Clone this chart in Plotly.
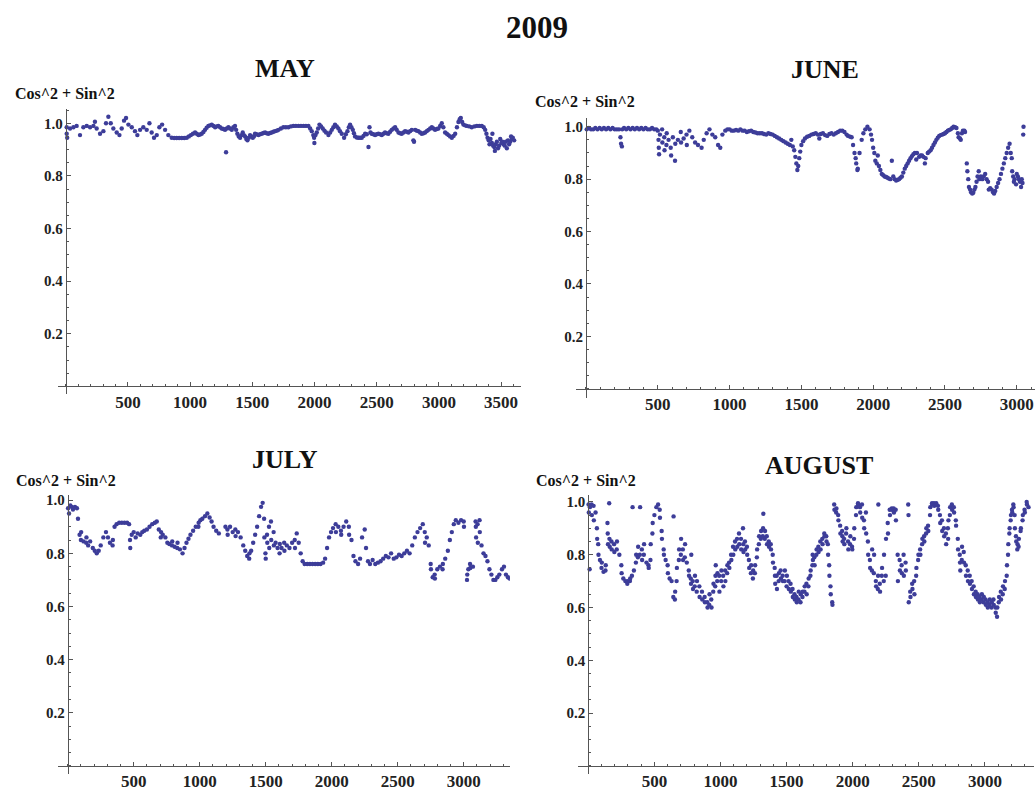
import plotly.graph_objects as go

W, H = 1035, 791

main_title = "2009"
y_label = "Cos^2 + Sin^2"
month_titles = ["MAY", "JUNE", "JULY", "AUGUST"]

x_ticks_may = [500, 1000, 1500, 2000, 2500, 3000, 3500]
x_ticks_other = [500, 1000, 1500, 2000, 2500, 3000]
y_ticks = [0.2, 0.4, 0.6, 0.8, 1.0]
y_ticktext = ["0.2", "0.4", "0.6", "0.8", "1.0"]

may_pts = [
    (8, 0.985), (8, 0.96), (12, 0.945), (35, 0.98), (62, 0.985), (88, 0.99), (115, 0.955), (142, 0.985),
    (169, 0.99), (196, 0.985), (223, 0.99), (235, 1.006), (249, 0.98), (276, 0.96), (303, 0.97), (324, 1.0),
    (343, 1.025), (362, 1.0), (383, 0.98), (410, 0.965), (432, 0.955), (450, 0.98), (469, 1.01), (485, 1.02),
    (504, 0.995), (531, 0.985), (557, 0.97), (576, 0.955), (598, 0.975), (624, 0.985), (651, 0.975), (673, 1.0),
    (691, 0.965), (710, 0.945), (732, 0.955), (753, 0.985), (775, 0.995), (799, 0.975), (825, 0.955), (852, 0.945),
    (872, 0.944), (892, 0.944), (912, 0.944), (933, 0.944), (953, 0.944), (973, 0.945), (990, 0.95), (1006, 0.955),
    (1023, 0.96), (1040, 0.965), (1054, 0.96), (1067, 0.955), (1080, 0.957), (1093, 0.96), (1107, 0.967), (1120, 0.975),
    (1133, 0.983), (1147, 0.99), (1160, 0.992), (1174, 0.995), (1188, 0.99), (1201, 0.985), (1214, 0.988), (1227, 0.99),
    (1241, 0.985), (1254, 0.98), (1268, 0.978), (1281, 0.975), (1289, 0.89), (1295, 0.98), (1308, 0.985), (1321, 0.98),
    (1335, 0.975), (1348, 0.985), (1361, 0.99), (1370, 0.975), (1380, 0.96), (1391, 0.95), (1402, 0.945), (1412, 0.955),
    (1423, 0.965), (1432, 0.955), (1442, 0.95), (1452, 0.94), (1461, 0.935), (1472, 0.945), (1482, 0.955), (1493, 0.95),
    (1504, 0.945), (1513, 0.95), (1522, 0.96), (1535, 0.958), (1549, 0.955), (1562, 0.958), (1576, 0.96), (1590, 0.963),
    (1603, 0.965), (1616, 0.962), (1629, 0.96), (1643, 0.963), (1656, 0.965), (1670, 0.968), (1683, 0.97), (1697, 0.972),
    (1710, 0.975), (1730, 0.98), (1750, 0.985), (1770, 0.985), (1790, 0.985), (1810, 0.988), (1830, 0.99), (1850, 0.99),
    (1871, 0.99), (1891, 0.99), (1911, 0.99), (1931, 0.99), (1951, 0.99), (1965, 0.98), (1978, 0.97), (1990, 0.955),
    (1997, 0.945), (1999, 0.925), (2008, 0.955), (2018, 0.965), (2029, 0.98), (2040, 0.995), (2053, 0.988), (2066, 0.98),
    (2080, 0.972), (2093, 0.965), (2112, 0.955), (2126, 0.965), (2139, 0.975), (2152, 0.985), (2165, 0.995), (2179, 0.988),
    (2192, 0.98), (2205, 0.97), (2219, 0.96), (2238, 0.945), (2252, 0.958), (2265, 0.97), (2276, 0.985), (2286, 0.995),
    (2297, 0.985), (2308, 0.975), (2317, 0.962), (2326, 0.95), (2340, 0.946), (2353, 0.945), (2367, 0.945), (2380, 0.945),
    (2394, 0.952), (2407, 0.96), (2420, 0.958), (2434, 0.91), (2442, 0.985), (2450, 0.965), (2460, 0.96), (2474, 0.958),
    (2487, 0.955), (2500, 0.958), (2514, 0.96), (2527, 0.958), (2541, 0.955), (2554, 0.96), (2567, 0.965), (2581, 0.962),
    (2594, 0.96), (2608, 0.968), (2621, 0.975), (2635, 0.98), (2648, 0.985), (2661, 0.975), (2675, 0.965), (2688, 0.962),
    (2701, 0.96), (2715, 0.965), (2728, 0.97), (2742, 0.968), (2755, 0.965), (2768, 0.97), (2782, 0.975), (2795, 0.935),
    (2800, 0.93), (2809, 0.975), (2822, 0.972), (2835, 0.97), (2849, 0.965), (2862, 0.96), (2876, 0.962), (2889, 0.965),
    (2902, 0.97), (2916, 0.975), (2930, 0.98), (2943, 0.985), (2956, 0.98), (2969, 0.975), (2983, 0.978), (2996, 0.98),
    (3010, 0.99), (3023, 1.0), (3036, 0.985), (3050, 0.965), (3064, 0.96), (3077, 0.955), (3090, 0.95), (3104, 0.945),
    (3118, 0.952), (3131, 0.96), (3145, 0.985), (3157, 1.005), (3167, 1.015), (3176, 1.02), (3187, 1.005), (3197, 0.995),
    (3210, 0.992), (3224, 0.99), (3244, 0.988), (3264, 0.985), (3285, 0.988), (3305, 0.99), (3325, 0.99), (3345, 0.99),
    (3360, 0.985), (3372, 0.975), (3382, 0.96), (3391, 0.945), (3400, 0.935), (3407, 0.92), (3415, 0.94), (3426, 0.925),
    (3430, 0.96), (3436, 0.915), (3445, 0.91), (3450, 0.895), (3456, 0.92), (3466, 0.93), (3475, 0.905), (3484, 0.915),
    (3493, 0.94), (3502, 0.925), (3511, 0.93), (3520, 0.92), (3529, 0.915), (3538, 0.93), (3546, 0.905), (3555, 0.935),
    (3564, 0.92), (3573, 0.93), (3580, 0.95), (3587, 0.94), (3594, 0.945), (3605, 0.935),
]

june_pts = [
    (5, 0.99), (20, 0.995), (35, 0.99), (50, 0.99), (65, 0.995), (80, 0.99), (95, 0.995), (110, 0.99),
    (125, 0.995), (140, 0.99), (155, 0.995), (170, 0.99), (185, 0.995), (200, 0.99), (215, 0.99), (230, 0.99),
    (240, 0.96), (244, 0.935), (250, 0.925), (252, 0.99), (265, 0.995), (280, 0.99), (295, 0.995), (310, 0.99),
    (325, 0.995), (340, 0.99), (355, 0.995), (370, 0.99), (385, 0.995), (400, 0.99), (415, 0.995), (430, 0.99),
    (445, 0.99), (460, 0.995), (475, 0.99), (490, 0.99), (500, 0.985), (505, 0.95), (507, 0.92), (509, 0.895),
    (515, 0.97), (530, 0.99), (532, 0.94), (545, 0.96), (547, 0.91), (560, 0.93), (562, 0.975), (575, 0.95),
    (590, 0.92), (593, 0.89), (605, 0.96), (620, 0.87), (622, 0.935), (640, 0.95), (660, 0.98), (662, 0.94),
    (680, 0.955), (700, 0.97), (702, 0.93), (720, 0.985), (740, 0.96), (760, 0.94), (780, 0.93), (805, 0.92),
    (820, 0.95), (840, 0.975), (860, 0.99), (880, 0.97), (900, 0.96), (920, 0.93), (935, 0.92), (950, 0.97),
    (970, 0.985), (985, 0.99), (1000, 0.99), (1015, 0.985), (1030, 0.985), (1045, 0.988), (1060, 0.985), (1075, 0.99),
    (1090, 0.985), (1105, 0.985), (1120, 0.98), (1135, 0.983), (1150, 0.985), (1165, 0.98), (1180, 0.978), (1195, 0.975),
    (1210, 0.975), (1225, 0.975), (1240, 0.972), (1255, 0.97), (1270, 0.975), (1285, 0.972), (1300, 0.97), (1315, 0.965),
    (1330, 0.96), (1345, 0.955), (1360, 0.95), (1375, 0.945), (1390, 0.94), (1405, 0.935), (1420, 0.93), (1430, 0.95),
    (1440, 0.925), (1450, 0.91), (1458, 0.885), (1465, 0.86), (1472, 0.835), (1478, 0.85), (1485, 0.88), (1492, 0.905),
    (1500, 0.93), (1512, 0.945), (1525, 0.955), (1540, 0.962), (1555, 0.965), (1570, 0.97), (1585, 0.972), (1600, 0.975),
    (1615, 0.97), (1625, 0.955), (1635, 0.972), (1650, 0.975), (1665, 0.968), (1680, 0.965), (1695, 0.972), (1710, 0.975),
    (1725, 0.97), (1740, 0.975), (1755, 0.98), (1770, 0.985), (1785, 0.985), (1800, 0.98), (1815, 0.97), (1825, 0.965),
    (1840, 0.962), (1850, 0.96), (1860, 0.93), (1870, 0.9), (1878, 0.88), (1882, 0.86), (1890, 0.835), (1893, 0.84),
    (1905, 0.9), (1920, 0.95), (1932, 0.975), (1945, 0.99), (1960, 1.0), (1975, 0.99), (1985, 0.97), (1992, 0.95),
    (2000, 0.92), (2008, 0.9), (2015, 0.87), (2025, 0.86), (2032, 0.89), (2040, 0.85), (2050, 0.835), (2060, 0.82),
    (2070, 0.815), (2080, 0.81), (2090, 0.808), (2100, 0.805), (2110, 0.802), (2120, 0.8), (2130, 0.87), (2140, 0.81),
    (2150, 0.8), (2160, 0.795), (2170, 0.797), (2180, 0.8), (2190, 0.805), (2200, 0.81), (2210, 0.825), (2220, 0.84),
    (2230, 0.85), (2240, 0.86), (2250, 0.87), (2260, 0.88), (2270, 0.888), (2280, 0.895), (2290, 0.9), (2300, 0.875),
    (2305, 0.9), (2320, 0.885), (2330, 0.89), (2340, 0.89), (2350, 0.885), (2360, 0.86), (2365, 0.88), (2380, 0.9),
    (2390, 0.905), (2400, 0.91), (2410, 0.92), (2420, 0.93), (2430, 0.94), (2440, 0.95), (2450, 0.958), (2460, 0.965),
    (2470, 0.968), (2480, 0.97), (2490, 0.972), (2500, 0.975), (2510, 0.98), (2520, 0.985), (2530, 0.988), (2540, 0.99),
    (2550, 0.995), (2560, 1.0), (2570, 0.998), (2580, 0.995), (2590, 0.975), (2595, 0.96), (2605, 0.955), (2610, 0.95),
    (2618, 0.975), (2625, 0.985), (2635, 0.985), (2640, 0.98), (2652, 0.86), (2656, 0.83), (2662, 0.8), (2667, 0.77),
    (2675, 0.76), (2682, 0.75), (2690, 0.745), (2697, 0.748), (2705, 0.76), (2712, 0.77), (2720, 0.79), (2727, 0.81),
    (2735, 0.83), (2740, 0.8), (2750, 0.81), (2760, 0.8), (2770, 0.81), (2780, 0.82), (2790, 0.8), (2800, 0.79),
    (2805, 0.76), (2815, 0.765), (2825, 0.76), (2835, 0.75), (2842, 0.745), (2850, 0.755), (2860, 0.77), (2870, 0.785),
    (2880, 0.8), (2890, 0.82), (2900, 0.84), (2910, 0.86), (2920, 0.88), (2930, 0.9), (2940, 0.92), (2950, 0.935),
    (2958, 0.9), (2965, 0.88), (2968, 0.83), (2975, 0.81), (2980, 0.79), (2985, 0.8), (2995, 0.78), (3000, 0.82),
    (3008, 0.81), (3015, 0.8), (3022, 0.79), (3030, 0.77), (3035, 0.8), (3040, 0.785), (3045, 0.97), (3047, 1.0),
]

july_pts = [
    (3, 0.97), (10, 0.95), (20, 0.98), (30, 0.975), (40, 0.965), (55, 0.975), (70, 0.97), (78, 0.93),
    (90, 0.87), (100, 0.85), (102, 0.88), (120, 0.845), (140, 0.84), (142, 0.86), (155, 0.83), (170, 0.845),
    (190, 0.82), (205, 0.81), (220, 0.8), (235, 0.81), (250, 0.83), (270, 0.86), (290, 0.88), (305, 0.86),
    (320, 0.84), (340, 0.83), (342, 0.85), (355, 0.9), (370, 0.91), (390, 0.915), (410, 0.915), (430, 0.915),
    (450, 0.915), (465, 0.91), (472, 0.85), (474, 0.82), (485, 0.87), (500, 0.88), (515, 0.86), (530, 0.875),
    (550, 0.87), (565, 0.88), (580, 0.885), (600, 0.89), (620, 0.9), (640, 0.91), (660, 0.915), (675, 0.92),
    (690, 0.89), (705, 0.86), (707, 0.88), (720, 0.87), (740, 0.86), (755, 0.84), (770, 0.835), (790, 0.83),
    (792, 0.845), (810, 0.825), (830, 0.82), (832, 0.84), (850, 0.815), (870, 0.8), (885, 0.82), (900, 0.84),
    (915, 0.855), (930, 0.87), (950, 0.885), (970, 0.9), (990, 0.9), (992, 0.915), (1005, 0.925), (1020, 0.93),
    (1040, 0.94), (1058, 0.95), (1075, 0.935), (1090, 0.92), (1105, 0.9), (1125, 0.885), (1145, 0.875), (1195, 0.9),
    (1210, 0.89), (1212, 0.87), (1230, 0.9), (1250, 0.88), (1270, 0.89), (1272, 0.865), (1290, 0.88), (1310, 0.86),
    (1330, 0.83), (1345, 0.81), (1360, 0.79), (1375, 0.78), (1377, 0.8), (1390, 0.81), (1405, 0.84), (1420, 0.87),
    (1435, 0.9), (1450, 0.94), (1465, 0.975), (1477, 0.99), (1488, 0.93), (1490, 0.86), (1498, 0.8), (1500, 0.78),
    (1510, 0.87), (1512, 0.84), (1525, 0.9), (1527, 0.82), (1540, 0.92), (1542, 0.85), (1560, 0.88), (1562, 0.83),
    (1575, 0.84), (1590, 0.82), (1605, 0.8), (1607, 0.835), (1620, 0.82), (1640, 0.84), (1642, 0.81), (1660, 0.83),
    (1680, 0.82), (1700, 0.84), (1720, 0.85), (1722, 0.82), (1735, 0.875), (1750, 0.84), (1765, 0.8), (1780, 0.77),
    (1795, 0.76), (1815, 0.76), (1835, 0.76), (1855, 0.76), (1875, 0.76), (1895, 0.76), (1915, 0.76), (1935, 0.765),
    (1950, 0.78), (1965, 0.82), (1980, 0.86), (1995, 0.88), (2010, 0.895), (2030, 0.91), (2032, 0.88), (2050, 0.9),
    (2070, 0.885), (2072, 0.87), (2090, 0.9), (2110, 0.92), (2130, 0.9), (2132, 0.87), (2150, 0.85), (2165, 0.79),
    (2180, 0.77), (2200, 0.76), (2215, 0.78), (2230, 0.86), (2250, 0.89), (2260, 0.82), (2275, 0.77), (2290, 0.76),
    (2310, 0.775), (2330, 0.76), (2350, 0.765), (2370, 0.77), (2390, 0.78), (2410, 0.79), (2430, 0.785), (2450, 0.8),
    (2470, 0.78), (2490, 0.785), (2510, 0.795), (2530, 0.79), (2550, 0.8), (2570, 0.81), (2590, 0.8), (2610, 0.83),
    (2630, 0.86), (2650, 0.88), (2670, 0.895), (2690, 0.91), (2705, 0.88), (2707, 0.84), (2720, 0.86), (2735, 0.83),
    (2750, 0.76), (2752, 0.74), (2765, 0.71), (2780, 0.72), (2782, 0.705), (2800, 0.74), (2820, 0.75), (2840, 0.74),
    (2842, 0.76), (2860, 0.78), (2880, 0.81), (2895, 0.85), (2910, 0.88), (2925, 0.91), (2940, 0.925), (2960, 0.915),
    (2980, 0.925), (3000, 0.92), (3002, 0.9), (3025, 0.7), (3027, 0.72), (3035, 0.74), (3048, 0.76), (3050, 0.745),
    (3070, 0.75), (3090, 0.92), (3092, 0.9), (3094, 0.86), (3105, 0.91), (3107, 0.84), (3120, 0.925), (3122, 0.88),
    (3135, 0.83), (3150, 0.8), (3165, 0.79), (3180, 0.77), (3195, 0.74), (3210, 0.72), (3225, 0.7), (3240, 0.7),
    (3255, 0.71), (3270, 0.72), (3290, 0.74), (3305, 0.75), (3320, 0.72), (3335, 0.71), (3348, 0.705),
]

august_pts = [
    (2, 0.99), (4, 0.96), (10, 0.745), (12, 0.98), (25, 0.99), (27, 0.95), (40, 0.985), (42, 0.93),
    (55, 0.96), (65, 0.9), (67, 0.86), (75, 0.84), (77, 0.8), (88, 0.78), (100, 0.75), (102, 0.77),
    (115, 0.735), (130, 0.74), (132, 0.76), (145, 0.92), (147, 0.88), (149, 0.84), (158, 0.995), (160, 0.86),
    (162, 0.83), (175, 0.85), (177, 0.82), (195, 0.84), (197, 0.81), (215, 0.82), (217, 0.85), (235, 0.8),
    (250, 0.76), (252, 0.73), (265, 0.71), (280, 0.7), (295, 0.69), (297, 0.7), (315, 0.7), (317, 0.71),
    (330, 0.72), (335, 0.98), (345, 0.74), (360, 0.77), (362, 0.8), (375, 0.79), (377, 0.83), (390, 0.8),
    (392, 0.98), (405, 0.82), (407, 0.78), (420, 0.8), (422, 0.84), (440, 0.77), (455, 0.76), (457, 0.75),
    (470, 0.78), (472, 0.84), (485, 0.88), (487, 0.92), (500, 0.95), (515, 0.98), (528, 0.99), (540, 0.97),
    (542, 0.94), (555, 0.89), (557, 0.86), (570, 0.82), (572, 0.8), (585, 0.78), (600, 0.76), (602, 0.73),
    (615, 0.71), (630, 0.7), (643, 0.64), (645, 0.945), (655, 0.63), (657, 0.66), (668, 0.7), (670, 0.75),
    (685, 0.78), (687, 0.82), (700, 0.8), (702, 0.86), (715, 0.82), (717, 0.78), (730, 0.79), (732, 0.84),
    (745, 0.77), (760, 0.74), (762, 0.72), (775, 0.71), (777, 0.69), (779, 0.8), (790, 0.7), (792, 0.67),
    (805, 0.68), (807, 0.72), (820, 0.66), (822, 0.7), (840, 0.68), (842, 0.64), (860, 0.66), (862, 0.63),
    (880, 0.64), (882, 0.62), (900, 0.62), (902, 0.6), (915, 0.61), (917, 0.65), (930, 0.63), (932, 0.6),
    (945, 0.66), (947, 0.69), (960, 0.68), (962, 0.72), (964, 0.76), (975, 0.7), (977, 0.73), (990, 0.72),
    (992, 0.66), (1005, 0.7), (1007, 0.74), (1020, 0.72), (1022, 0.68), (1035, 0.74), (1037, 0.7), (1050, 0.73),
    (1052, 0.76), (1065, 0.77), (1067, 0.75), (1080, 0.8), (1082, 0.78), (1095, 0.83), (1097, 0.8), (1110, 0.85),
    (1112, 0.82), (1125, 0.86), (1127, 0.83), (1140, 0.88), (1142, 0.84), (1155, 0.86), (1157, 0.82), (1170, 0.9),
    (1172, 0.84), (1174, 0.81), (1185, 0.85), (1187, 0.82), (1200, 0.83), (1202, 0.8), (1215, 0.78), (1217, 0.75),
    (1230, 0.73), (1232, 0.76), (1245, 0.71), (1247, 0.74), (1260, 0.73), (1262, 0.76), (1275, 0.79), (1277, 0.82),
    (1290, 0.84), (1292, 0.87), (1305, 0.86), (1307, 0.89), (1320, 0.87), (1322, 0.9), (1324, 0.955), (1335, 0.86),
    (1337, 0.89), (1350, 0.87), (1352, 0.84), (1365, 0.85), (1367, 0.83), (1380, 0.84), (1382, 0.82), (1395, 0.8),
    (1397, 0.77), (1410, 0.75), (1412, 0.72), (1414, 0.69), (1425, 0.72), (1427, 0.67), (1440, 0.7), (1442, 0.73),
    (1455, 0.74), (1457, 0.71), (1470, 0.72), (1472, 0.7), (1485, 0.7), (1487, 0.74), (1500, 0.68), (1502, 0.72),
    (1515, 0.7), (1517, 0.67), (1530, 0.69), (1532, 0.66), (1545, 0.67), (1547, 0.64), (1560, 0.65), (1562, 0.63),
    (1575, 0.64), (1577, 0.62), (1590, 0.63), (1592, 0.66), (1605, 0.62), (1607, 0.65), (1620, 0.64), (1622, 0.66),
    (1635, 0.66), (1637, 0.68), (1650, 0.69), (1652, 0.65), (1665, 0.68), (1667, 0.71), (1680, 0.72), (1682, 0.74),
    (1695, 0.76), (1697, 0.8), (1699, 0.78), (1710, 0.79), (1712, 0.76), (1725, 0.8), (1727, 0.82), (1740, 0.83),
    (1742, 0.81), (1755, 0.85), (1757, 0.82), (1770, 0.86), (1772, 0.84), (1785, 0.88), (1787, 0.87), (1800, 0.87),
    (1802, 0.85), (1812, 0.84), (1814, 0.8), (1822, 0.76), (1824, 0.72), (1832, 0.68), (1834, 0.65), (1845, 0.62),
    (1847, 0.61), (1860, 0.99), (1862, 0.97), (1875, 0.96), (1877, 0.975), (1890, 0.95), (1892, 0.93), (1905, 0.91),
    (1907, 0.88), (1920, 0.89), (1922, 0.87), (1924, 0.85), (1935, 0.86), (1937, 0.84), (1950, 0.88), (1952, 0.9),
    (1965, 0.85), (1967, 0.82), (1980, 0.84), (1982, 0.87), (1995, 0.83), (1997, 0.82), (2010, 0.86), (2012, 0.9),
    (2025, 0.95), (2027, 0.98), (2040, 0.995), (2042, 0.99), (2055, 0.98), (2057, 0.96), (2070, 0.99), (2072, 0.94),
    (2085, 0.93), (2087, 0.9), (2100, 0.96), (2102, 0.88), (2115, 0.85), (2117, 0.8), (2130, 0.78), (2132, 0.75),
    (2145, 0.74), (2147, 0.82), (2160, 0.73), (2162, 0.8), (2175, 0.7), (2177, 0.68), (2190, 0.67), (2192, 0.72),
    (2194, 0.99), (2205, 0.69), (2207, 0.66), (2220, 0.72), (2222, 0.75), (2235, 0.7), (2237, 0.8), (2250, 0.72),
    (2252, 0.86), (2265, 0.92), (2267, 0.88), (2280, 0.97), (2282, 0.95), (2295, 0.975), (2297, 0.97), (2310, 0.975),
    (2312, 0.96), (2325, 0.97), (2327, 0.93), (2340, 0.8), (2342, 0.7), (2355, 0.78), (2357, 0.74), (2370, 0.76),
    (2372, 0.73), (2385, 0.8), (2387, 0.72), (2400, 0.77), (2402, 0.74), (2420, 0.99), (2422, 0.95), (2424, 0.62),
    (2435, 0.66), (2437, 0.64), (2450, 0.69), (2452, 0.67), (2465, 0.7), (2467, 0.65), (2480, 0.72), (2482, 0.75),
    (2495, 0.78), (2497, 0.8), (2510, 0.82), (2512, 0.8), (2525, 0.84), (2527, 0.86), (2540, 0.87), (2542, 0.85),
    (2555, 0.88), (2557, 0.9), (2570, 0.91), (2572, 0.89), (2585, 0.95), (2587, 0.98), (2600, 0.995), (2602, 0.99),
    (2615, 0.995), (2617, 0.985), (2630, 0.99), (2632, 0.995), (2645, 0.985), (2647, 0.97), (2660, 0.95), (2662, 0.92),
    (2675, 0.93), (2677, 0.89), (2690, 0.9), (2692, 0.87), (2705, 0.88), (2707, 0.84), (2720, 0.9), (2722, 0.86),
    (2724, 0.93), (2735, 0.95), (2737, 0.98), (2750, 0.99), (2752, 0.97), (2765, 0.98), (2767, 0.96), (2780, 0.93),
    (2782, 0.91), (2795, 0.86), (2797, 0.82), (2810, 0.8), (2812, 0.77), (2814, 0.74), (2825, 0.78), (2827, 0.83),
    (2840, 0.81), (2842, 0.77), (2855, 0.76), (2857, 0.72), (2870, 0.74), (2872, 0.7), (2885, 0.72), (2887, 0.69),
    (2900, 0.7), (2902, 0.67), (2915, 0.68), (2917, 0.65), (2930, 0.66), (2932, 0.64), (2945, 0.65), (2947, 0.63),
    (2960, 0.64), (2962, 0.62), (2975, 0.63), (2977, 0.65), (2990, 0.62), (2992, 0.64), (3005, 0.63), (3007, 0.61),
    (3020, 0.62), (3022, 0.6), (3035, 0.61), (3037, 0.63), (3050, 0.6), (3052, 0.62), (3065, 0.63), (3067, 0.61),
    (3080, 0.6), (3082, 0.58), (3092, 0.565), (3094, 0.6), (3105, 0.62), (3107, 0.64), (3120, 0.66), (3122, 0.63),
    (3135, 0.65), (3137, 0.68), (3150, 0.67), (3152, 0.7), (3165, 0.72), (3167, 0.76), (3175, 0.8), (3177, 0.84),
    (3185, 0.88), (3187, 0.9), (3195, 0.93), (3197, 0.95), (3205, 0.97), (3207, 0.96), (3215, 0.99), (3217, 0.98),
    (3225, 0.95), (3227, 0.9), (3235, 0.87), (3237, 0.85), (3245, 0.82), (3247, 0.84), (3255, 0.83), (3257, 0.86),
    (3270, 0.89), (3272, 0.9), (3285, 0.93), (3287, 0.95), (3300, 0.97), (3302, 0.96), (3316, 1.0), (3318, 0.99),
    (3330, 0.98),
]

# Panel layout in pixels: data origin (ox, oy), pixels per unit (sx, sy), axis ranges
panels = [
    dict(pts=may_pts, title=month_titles[0], ox=65.7, sx=0.1244, xr=(-65, 3660),
         oy=388.3, sy=265.8, yr=(-0.03, 1.055), xt=x_ticks_may, tpos=(285, 67), lpos=(65, 92)),
    dict(pts=june_pts, title=month_titles[1], ox=586.0, sx=0.1436, xr=(-70, 3127),
         oy=390.7, sy=264.7, yr=(-0.035, 1.034), xt=x_ticks_other, tpos=(825, 68), lpos=(585, 101)),
    dict(pts=july_pts, title=month_titles[2], ox=67.7, sx=0.132, xr=(-73, 3350),
         oy=771.7, sy=268.4, yr=(-0.03, 1.02), xt=x_ticks_other, tpos=(285, 462), lpos=(66, 483)),
    dict(pts=august_pts, title=month_titles[3], ox=588.3, sx=0.1322, xr=(-78, 3375),
         oy=771.7, sy=266.7, yr=(-0.03, 1.027), xt=x_ticks_other, tpos=(819, 468), lpos=(586, 483)),
]

DOT = "rgb(61,61,153)"
AXC = "#555555"
FONT = "Liberation Serif, Times New Roman, serif"

fig = go.Figure()
layout = {}
annotations = []

for i, p in enumerate(panels):
    n = "" if i == 0 else str(i + 1)
    xs = [pt[0] for pt in p["pts"]]
    ys = [pt[1] for pt in p["pts"]]
    fig.add_trace(go.Scatter(
        x=xs, y=ys, mode="markers",
        marker=dict(color=DOT, size=4.4, line=dict(width=0)),
        xaxis="x" + n, yaxis="y" + n, showlegend=False, hoverinfo="x+y",
    ))
    xl = p["ox"] + p["xr"][0] * p["sx"]
    xh = p["ox"] + p["xr"][1] * p["sx"]
    yb = p["oy"] - p["yr"][0] * p["sy"]
    yt = p["oy"] - p["yr"][1] * p["sy"]
    layout["xaxis" + n] = dict(
        domain=[max(0, xl / W), min(1, xh / W)], range=list(p["xr"]),
        anchor="free", position=1 - p["oy"] / H,
        showgrid=False, zeroline=False, showline=True, linecolor=AXC, linewidth=1,
        tickmode="array", tickvals=p["xt"], ticktext=[str(v) for v in p["xt"]],
        ticks="inside", ticklen=4, tickcolor=AXC, tickwidth=1,
        minor=dict(dtick=100, tick0=0, ticks="inside", ticklen=2, tickcolor=AXC),
        tickfont=dict(family=FONT, size=17, color="#222", weight="bold"),
        fixedrange=True,
    )
    layout["yaxis" + n] = dict(
        domain=[1 - yb / H, 1 - yt / H], range=list(p["yr"]),
        anchor="free", position=p["ox"] / W,
        showgrid=False, zeroline=False, showline=True, linecolor=AXC, linewidth=1,
        tickmode="array", tickvals=y_ticks, ticktext=y_ticktext,
        ticks="inside", ticklen=4, tickcolor=AXC, tickwidth=1,
        minor=dict(dtick=0.05, tick0=0, ticks="inside", ticklen=2, tickcolor=AXC),
        tickfont=dict(family=FONT, size=15, color="#222", weight="bold"),
        fixedrange=True,
    )
    annotations.append(dict(
        text=p["title"], x=p["tpos"][0] / W, y=1 - p["tpos"][1] / H, xref="paper", yref="paper",
        xanchor="center", yanchor="middle", showarrow=False,
        font=dict(family=FONT, size=26, color="#111", weight="bold"),
    ))
    annotations.append(dict(
        text=y_label, x=p["lpos"][0] / W, y=1 - p["lpos"][1] / H, xref="paper", yref="paper",
        xanchor="center", yanchor="middle", showarrow=False,
        font=dict(family=FONT, size=16, color="#111", weight="bold"),
    ))

annotations.append(dict(
    text=main_title, x=537 / W, y=1 - 26 / H, xref="paper", yref="paper",
    xanchor="center", yanchor="middle", showarrow=False,
    font=dict(family=FONT, size=31, color="#111", weight="bold"),
))

fig.update_layout(
    width=W, height=H, margin=dict(l=0, r=0, t=0, b=0),
    paper_bgcolor="white", plot_bgcolor="white",
    annotations=annotations, **layout,
)

fig.write_html("out.html")
